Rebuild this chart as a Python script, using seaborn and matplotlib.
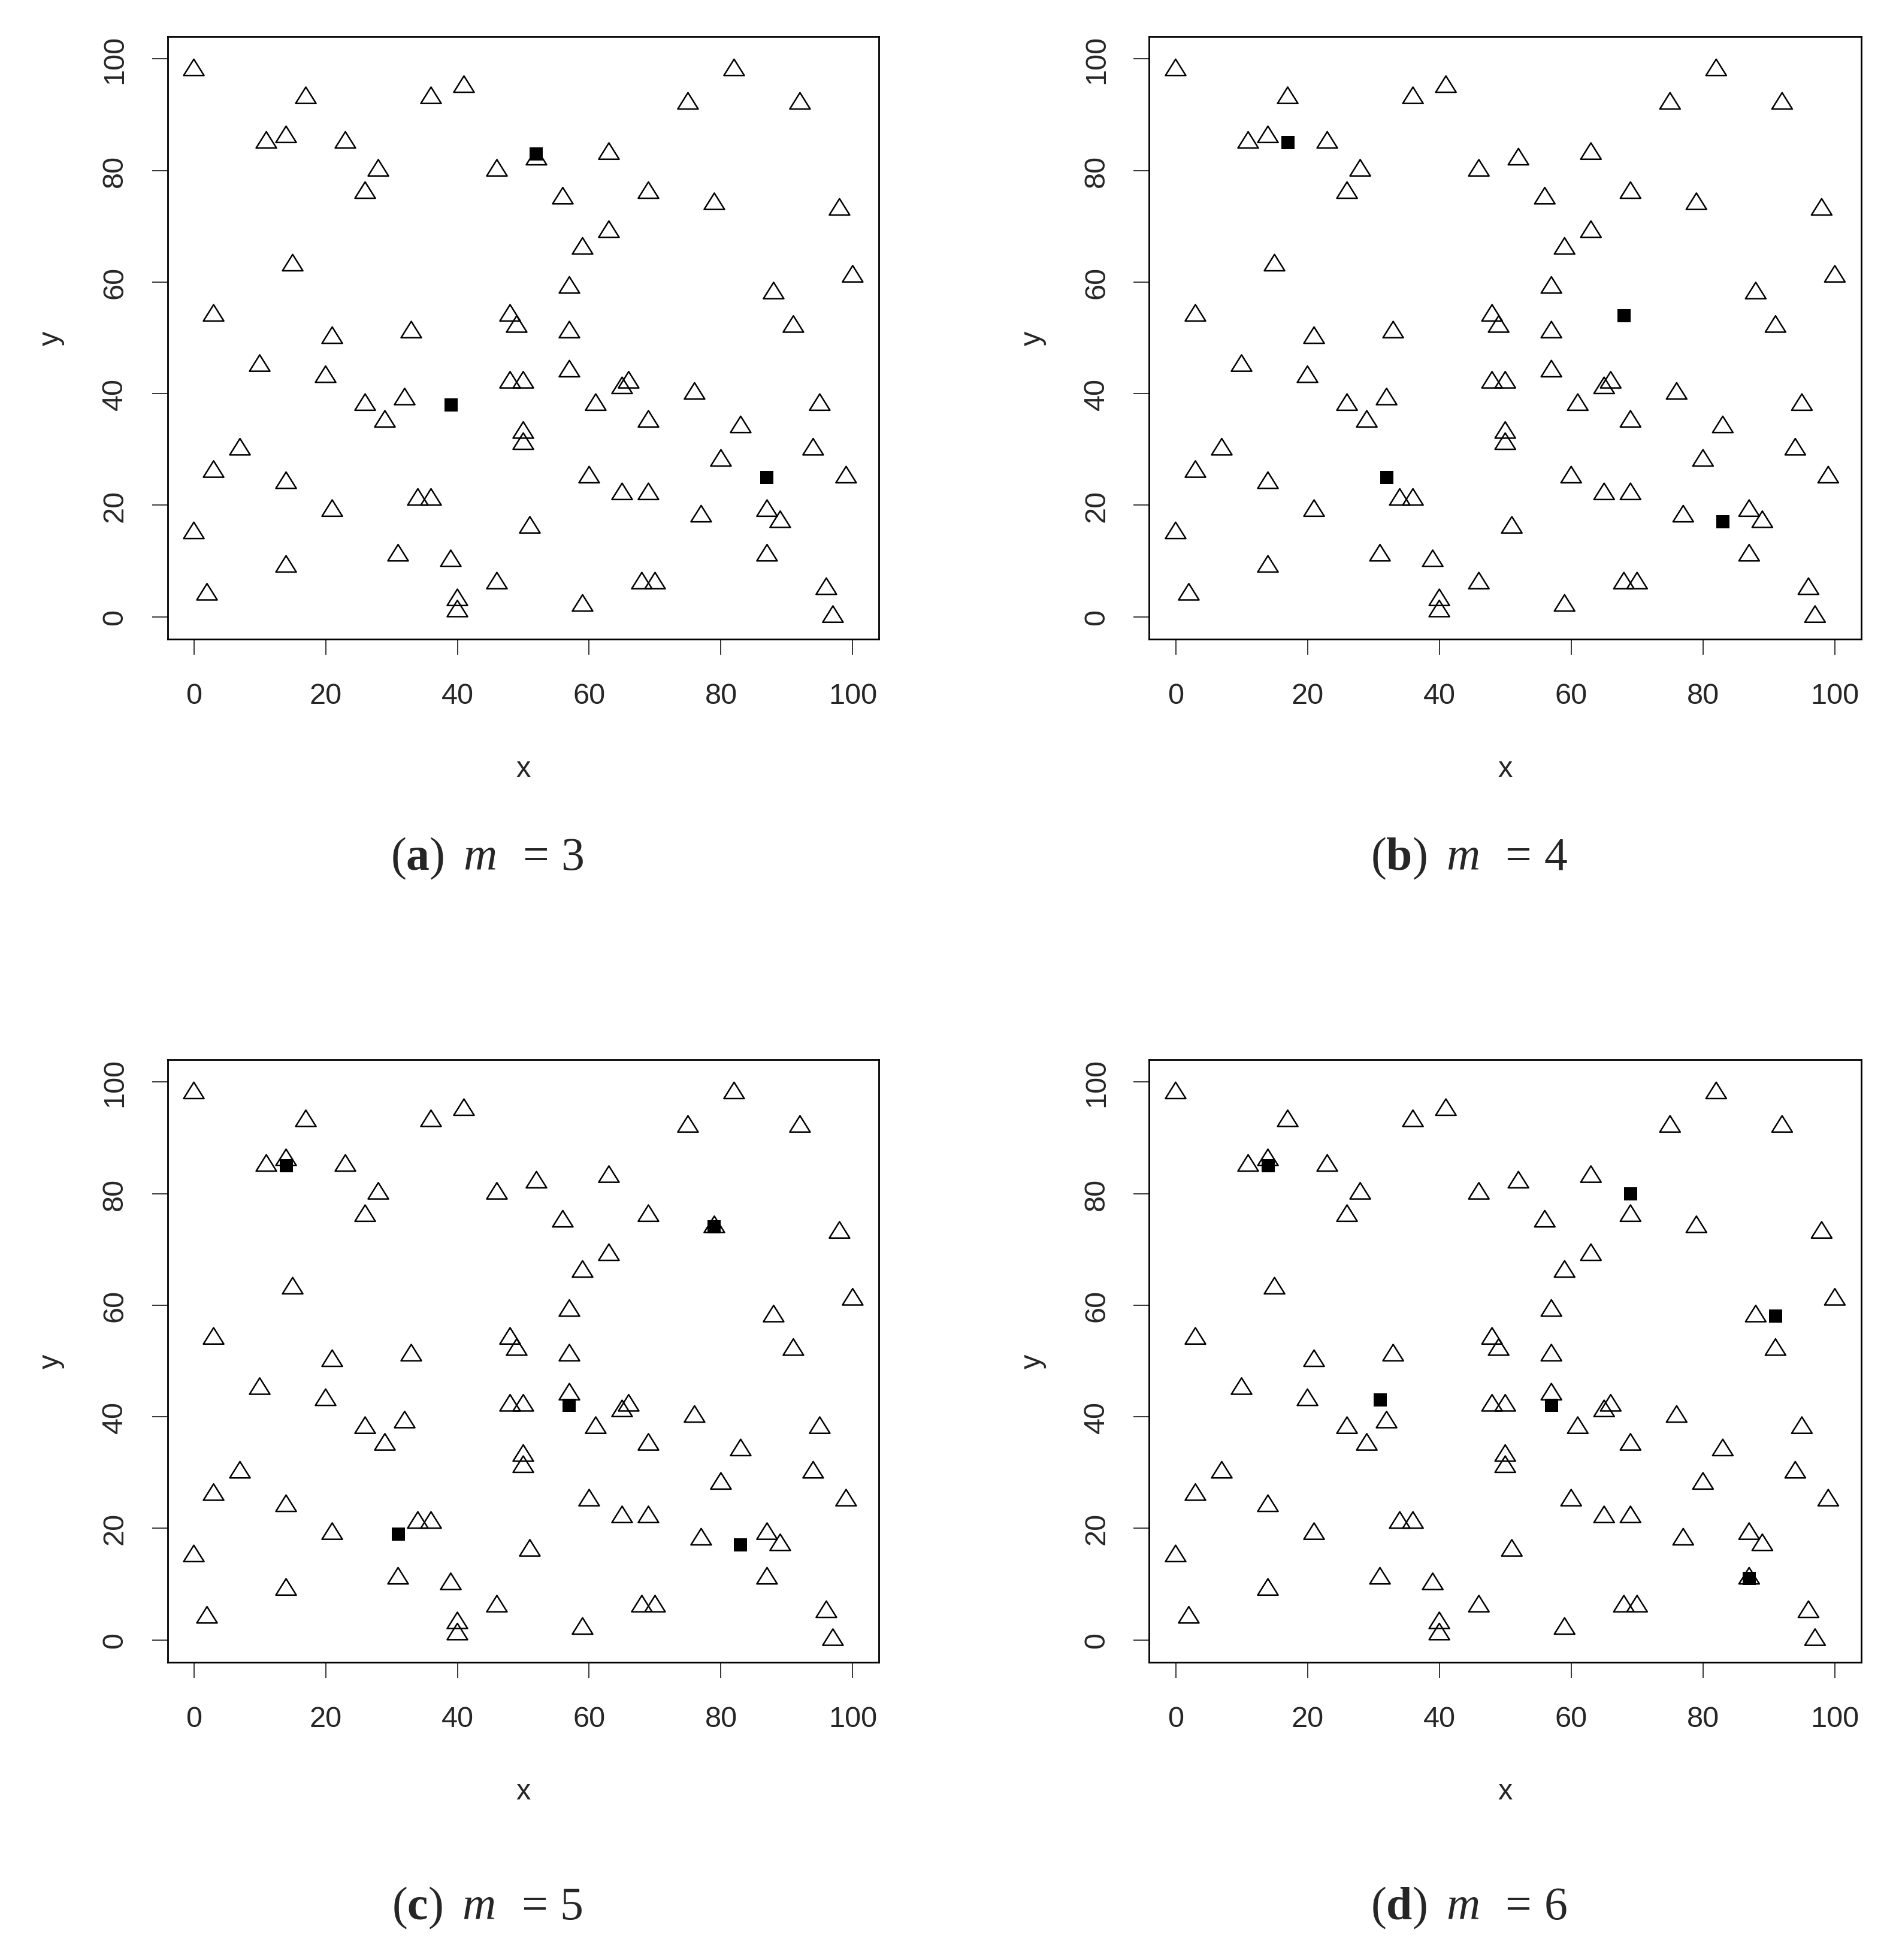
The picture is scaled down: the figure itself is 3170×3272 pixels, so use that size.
import numpy as np
import pandas as pd
import matplotlib
matplotlib.use("Agg")
import matplotlib.pyplot as plt
import seaborn as sns
from matplotlib.path import Path

# data points (same in every panel)
pts_x = [0, 17, 36, 41, 82, 75, 92,
         11, 14, 23, 52, 63,
         28, 46,
         26, 56, 69, 79, 98,
         63, 59,
         15, 100,
         57, 88,
         3, 48, 49, 91,
         21, 33, 57,
         10, 20, 57, 48, 50, 65, 66, 76,
         26, 32, 61, 95,
         29, 69, 83,
         50, 50,
         7, 94, 80,
         3, 14, 60, 99,
         65, 69, 34, 36,
         21, 77, 87, 89,
         0, 51,
         31, 39, 14, 87,
         46, 68, 70,
         2, 96,
         40, 40, 59, 97]
pts_y = [98, 93, 93, 95, 98, 92, 92,
         85, 86, 85, 82, 83,
         80, 80,
         76, 75, 76, 74, 73,
         69, 66,
         63, 61,
         59, 58,
         54, 54, 52, 52,
         50, 51, 51,
         45, 43, 44, 42, 42, 41, 42, 40,
         38, 39, 38, 38,
         35, 35, 34,
         33, 31,
         30, 30, 28,
         26, 24, 25, 25,
         22, 22, 21, 21,
         19, 18, 19, 17,
         15, 16,
         11, 10, 9, 11,
         6, 6, 6,
         4, 5,
         3, 1, 2, 0]

# centres (filled squares) for each m
m3_x = [52, 39, 87]
m3_y = [83, 38, 25]
m4_x = [17, 68, 32, 83]
m4_y = [85, 54, 25, 17]
m5_x = [14, 79, 57, 31, 83]
m5_y = [85, 74, 42, 19, 17]
m6_x = [14, 69, 91, 31, 57, 87]
m6_y = [85, 80, 58, 43, 42, 11]

panel_letters = ["a", "b", "c", "d"]
panel_m = [3, 4, 5, 6]
ticks = [0, 20, 40, 60, 80, 100]

sns.set_style("white")
plt.rcParams["font.family"] = ["Liberation Sans", "DejaVu Sans"]
plt.rcParams["mathtext.fontset"] = "custom"
plt.rcParams["mathtext.rm"] = "Liberation Serif"
plt.rcParams["mathtext.it"] = "Liberation Serif:italic"
plt.rcParams["mathtext.bf"] = "Liberation Serif:bold"

points = pd.DataFrame({"x": pts_x, "y": pts_y})
centres = [pd.DataFrame({"x": cx, "y": cy})
           for cx, cy in [(m3_x, m3_y), (m4_x, m4_y), (m5_x, m5_y), (m6_x, m6_y)]]

tri = Path([(-1, -0.53), (1, -0.53), (0, 1.07), (-1, -0.53)], closed=True)

W, H = 3170, 3273
fig = plt.figure(figsize=(W / 100, H / 100), dpi=100)

rects = [[0.0882, 0.6737, 0.3747, 0.3073],
         [0.6052, 0.6737, 0.3749, 0.3073],
         [0.0882, 0.1519, 0.3747, 0.3073],
         [0.6052, 0.1519, 0.3749, 0.3073]]
cap_pos = [(813, 1433), (2452, 1433), (813, 3185), (2452, 3185)]

for i in range(4):
    ax = fig.add_axes(rects[i])
    sns.scatterplot(data=points, x="x", y="y", ax=ax, marker=tri, s=690,
                    color="black", linewidth=1.8, zorder=2)
    ax.collections[-1].set_facecolor("none")
    ax.collections[-1].set_edgecolor("black")
    sns.scatterplot(data=centres[i], x="x", y="y", ax=ax, marker="s", s=250,
                    color="black", linewidth=0, zorder=3)

    ax.set_xlim(-4, 104)
    ax.set_ylim(-4, 104)
    ax.set_xticks(ticks)
    ax.set_yticks(ticks)
    ax.tick_params(axis="both", direction="out", length=19, width=1.3,
                   labelsize=35, bottom=True, left=True)
    ax.tick_params(axis="x", pad=33)
    ax.tick_params(axis="y", pad=28, labelrotation=90)
    for lab in ax.get_yticklabels():
        lab.set_va("center")
    ax.set_xlabel("x", fontsize=35, labelpad=55)
    ax.set_ylabel("y", fontsize=35, labelpad=44)
    for sp in ax.spines.values():
        sp.set_linewidth(2.0)
        sp.set_color("black")

    cx, cy = cap_pos[i]
    fig.text(cx / W, 1 - cy / H,
             r"$(\mathbf{%s})\;\;m\;\;{=}\,%d$" % (panel_letters[i], panel_m[i]),
             fontsize=56, ha="center", va="center")

fig.savefig("out.png", dpi=100, facecolor="white")
